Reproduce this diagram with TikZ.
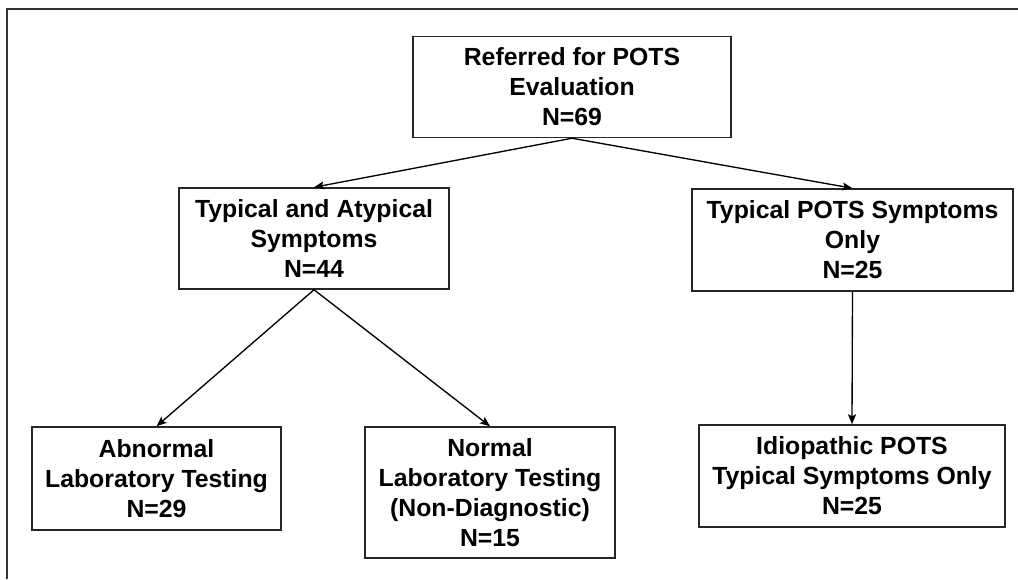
\documentclass[tikz,border=0pt]{standalone}
\usepackage{fontspec}
\setmainfont{Liberation Sans}
\usetikzlibrary{arrows.meta}
\begin{document}
\begin{tikzpicture}[x=0.75pt,y=-0.75pt,
		box/.style={draw=black!85,line width=1.1pt,align=center,inner sep=0pt,
			font=\fontsize{18.6}{22.5}\selectfont\bfseries},
		boxsize/.style 2 args={minimum width=#1*0.75pt,minimum height=#2*0.75pt},
		link/.style={line width=1pt,-{Stealth[length=7.5pt,width=6pt,inset=1.5pt]}}]
	\useasboundingbox (0,0) rectangle (1018,579);
	% frame
	\draw[line width=1.6pt,black!80] (7,579) -- (7,9) -- (1018,9);
	% top
	\node[box,boxsize={318}{101}] (ref) at (572,87) {Referred for POTS\\Evaluation\\N=69};
	% second row
	\node[box,boxsize={270}{101}] (typ) at (314,238.5) {Typical and Atypical\\Symptoms\\N=44};
	\node[box,boxsize={321}{102}] (pots) at (852.5,240) {Typical POTS Symptoms\\Only\\N=25};
	% bottom row
	\node[box,boxsize={249}{103}] (abn) at (156.5,478.5) {Abnormal\\Laboratory Testing\\N=29};
	\node[box,boxsize={250}{131}] (norm) at (490,492.5) {Normal\\Laboratory Testing\\(Non-Diagnostic)\\N=15};
	\node[box,boxsize={306}{102}] (idio) at (852,476) {Idiopathic POTS\\Typical Symptoms Only\\N=25};
	% arrows
	\draw[link] (ref.south) -- (typ.north);
	\draw[link] (ref.south) -- (pots.north);
	\draw[link] (typ.south) -- (abn.north);
	\draw[link] (typ.south) -- (norm.north);
	\draw[link] (pots.south) -- (idio.north);
\end{tikzpicture}
\end{document}
